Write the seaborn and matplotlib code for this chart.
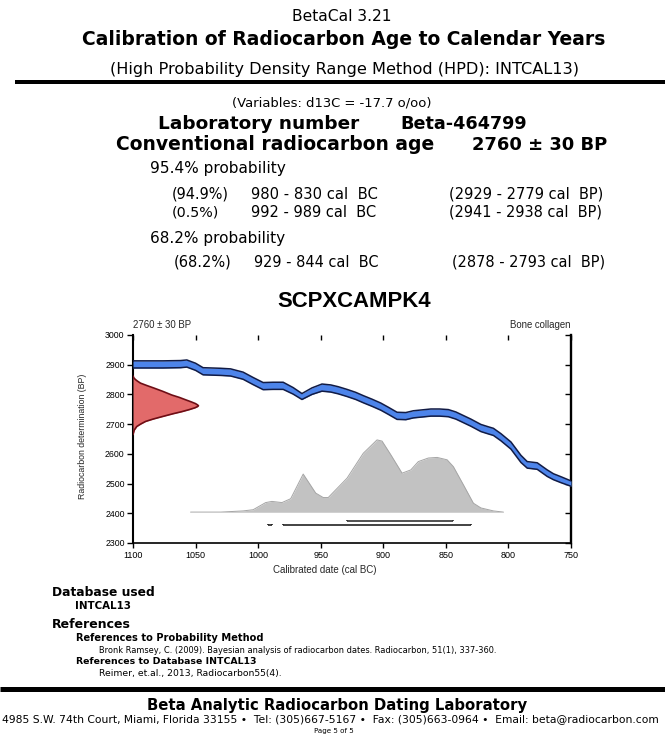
import matplotlib
matplotlib.use("Agg")
import matplotlib.pyplot as plt
import matplotlib.transforms as mtransforms
import seaborn as sns
import pandas as pd

# ---------------- data ----------------
cal_year = [1100, 1076, 1062, 1057, 1050, 1044, 1030, 1022, 1012, 1004, 996, 988, 980, 972, 965,
            957, 949, 942, 936, 929, 922, 916, 909, 902, 896, 889, 882, 876, 869, 862, 855, 848,
            842, 838, 830, 822, 816, 812, 806, 798, 790, 785, 777, 769, 764, 758, 750]
cal_bp = [2901, 2901, 2902, 2904, 2893, 2878, 2876, 2874, 2863, 2845, 2828, 2829, 2829, 2812, 2793,
          2811, 2823, 2820, 2814, 2805, 2795, 2784, 2772, 2759, 2745, 2728, 2727, 2733, 2736, 2739,
          2739, 2737, 2729, 2721, 2705, 2687, 2679, 2674, 2656, 2628, 2583, 2563, 2559, 2535, 2523,
          2513, 2500]
cal_err = [12, 12, 12, 12, 12, 12, 12, 12, 12, 12, 12, 12, 12, 11, 10,
           11, 12, 12, 12, 12, 12, 12, 12, 12, 12, 12, 12, 12, 12, 12,
           12, 12, 12, 12, 12, 12, 12, 12, 12, 12, 12, 11, 11, 11, 10,
           10, 9]

red_bp = [2862, 2855, 2850, 2845, 2838, 2830, 2821, 2810, 2798, 2790, 2782, 2775, 2769, 2765,
          2762, 2759, 2755, 2749, 2742, 2735, 2725, 2717, 2709, 2700, 2692, 2680, 2665]
red_year = [1100, 1099.2, 1098, 1096.5, 1094, 1089, 1083, 1076, 1069, 1063, 1058, 1053.5, 1050,
            1048.5, 1047.7, 1048.5, 1050.5, 1055, 1061, 1068, 1077, 1084, 1090, 1094, 1097, 1099, 1100]

gray_year = [1054, 1030, 1012, 1004, 994, 989, 981, 974, 964, 954, 948, 944, 929, 916, 905, 901,
             894, 885, 878, 872, 864, 857, 849, 844, 836, 828, 822, 812, 804]
gray_bp = [2404, 2404, 2408, 2412, 2436, 2440, 2436, 2449, 2532, 2468, 2453, 2453, 2518, 2602,
           2647, 2643, 2597, 2535, 2546, 2574, 2586, 2588, 2580, 2557, 2496, 2434, 2418, 2408, 2404]
gray_base = 2404

hpd95_from = [980, 992]
hpd95_to = [830, 989]
hpd68_from = [929]
hpd68_to = [844]

x_ticks = [1100, 1050, 1000, 950, 900, 850, 800, 750]
y_ticks = [2300, 2400, 2500, 2600, 2700, 2800, 2900, 3000]

# ---------------- figure ----------------
sns.set_style("ticks")
plt.rcParams["font.family"] = ["DejaVu Sans"]
W, H, DPI = 665, 737, 100
fig = plt.figure(figsize=(W / DPI, H / DPI), dpi=DPI)
renderer = fig.canvas.get_renderer()
ident = mtransforms.IdentityTransform()


def page_text(s, x, y, width, ha="left", weight="normal", family="DejaVu Sans", color="black"):
    t = fig.text(0, 0, s, ha=ha, va="baseline", fontweight=weight, family=family,
                 fontsize=10, transform=ident, color=color)
    w = t.get_window_extent(renderer).width
    fs = 10 * width / w
    t.set_fontsize(fs)
    em = fs * DPI / 72.0
    t.set_position((x, H - (y + 0.36 * em)))
    return t


def hrule(y, x0, x1, thick):
    fig.add_artist(plt.Line2D([x0, x1], [H - y, H - y], transform=ident,
                              color="black", linewidth=thick * 72 / DPI, solid_capstyle="butt"))


# header
page_text("BetaCal 3.21", 342, 15.5, 100, ha="center")
page_text("Calibration of Radiocarbon Age to Calendar Years", 344, 38.3, 526, ha="center", weight="bold")
page_text("(High Probability Density Range Method (HPD): INTCAL13)", 345, 68.5, 468, ha="center")
hrule(81.5, 15, 665, 4)
page_text("(Variables: d13C = -17.7 o/oo)", 332, 101.5, 199, ha="center")
page_text("Laboratory number", 157.8, 122.5, 202, weight="bold")
page_text("Beta-464799", 400.8, 122.5, 127, weight="bold")
page_text("Conventional radiocarbon age", 116, 143.3, 319, weight="bold")
page_text("2760 ± 30 BP", 471.6, 143.3, 135, weight="bold")
page_text("95.4% probability", 150, 167.5, 136)
page_text("(94.9%)", 171.7, 193.7, 57.3)
page_text("980 - 830 cal  BC", 250.7, 193.7, 126)
page_text("(2929 - 2779 cal  BP)", 448.7, 193.7, 153.5)
page_text("(0.5%)", 171.7, 211.7, 47.3)
page_text("992 - 989 cal  BC", 251, 211.7, 125)
page_text("(2941 - 2938 cal  BP)", 448.7, 211.7, 153.3)
page_text("68.2% probability", 150.5, 237.8, 135.5)
page_text("(68.2%)", 174, 261.7, 57.7)
page_text("929 - 844 cal  BC", 254.3, 261.7, 124.4)
page_text("(2878 - 2793 cal  BP)", 451.7, 261.7, 152.6)

# chart title
page_text("SCPXCAMPK4", 354.2, 299, 153.6, ha="center", weight="bold", family="Liberation Sans")

# footer
page_text("Database used", 51.7, 591.7, 103, weight="bold")
page_text("INTCAL13", 75.5, 605, 56, weight="bold")
page_text("References", 51.7, 623.3, 79, weight="bold")
page_text("References to Probability Method", 75.5, 637.3, 187.5, weight="bold")
page_text("Bronk Ramsey, C. (2009). Bayesian analysis of radiocarbon dates. Radiocarbon, 51(1), 337-360.",
          98.8, 650, 395)
page_text("References to Database INTCAL13", 75.5, 661, 182, weight="bold")
page_text("Reimer, et.al., 2013, Radiocarbon55(4).", 98.8, 672.7, 183)
hrule(688.5, 0, 665, 5)
page_text("Beta Analytic Radiocarbon Dating Laboratory", 337, 705, 382, ha="center", weight="bold")
page_text("4985 S.W. 74th Court, Miami, Florida 33155 \u2022  Tel: (305)667-5167 \u2022  "
          "Fax: (305)663-0964 \u2022  Email: beta@radiocarbon.com", 2.5, 718.3, 659)
page_text("Page 5 of 5", 334, 730, 40, ha="center")

# ---------------- chart ----------------
ax_l, ax_r, ax_t, ax_b = 133, 571, 335, 543
ax = fig.add_axes([ax_l / W, 1 - ax_b / H, (ax_r - ax_l) / W, (ax_b - ax_t) / H])
ax.set_facecolor("white")

cal = pd.DataFrame({"year": cal_year, "bp": cal_bp, "err": cal_err})
cal["lo"] = cal["bp"] - cal["err"]
cal["hi"] = cal["bp"] + cal["err"]

gray = pd.DataFrame({"year": gray_year, "bp": gray_bp})
red = pd.DataFrame({"year": red_year, "bp": red_bp})

# probability distribution (grey)
ax.fill_between(gray["year"], gray_base, gray["bp"], color="#c2c2c2", linewidth=0, zorder=1)
sns.lineplot(data=gray, x="year", y="bp", sort=False, estimator=None, color="#a5a5a5",
             linewidth=0.7, ax=ax, zorder=2)
ax.plot([gray_year[0], gray_year[-1]], [gray_base, gray_base], color="#cfcfcf", linewidth=0.6, zorder=2)

# calibration curve band (blue)
ax.fill_between(cal["year"], cal["lo"], cal["hi"], color="#4d84ea", linewidth=0, zorder=3)
sns.lineplot(data=cal, x="year", y="hi", sort=False, estimator=None, color="#111b45",
             linewidth=1.1, ax=ax, zorder=4)
sns.lineplot(data=cal, x="year", y="lo", sort=False, estimator=None, color="#111b45",
             linewidth=1.1, ax=ax, zorder=4)

# measured radiocarbon age distribution (red)
ax.fill_betweenx(red["bp"], red["year"], 1100, color="#e26a6a", linewidth=0, zorder=3)
sns.lineplot(data=red, x="year", y="bp", sort=False, estimator=None, color="#6e0d15",
             linewidth=1.2, ax=ax, zorder=4)

# HPD range bars
y95, y68, cap = 2359, 2373, 6
ax.hlines([y95] * len(hpd95_from), hpd95_from, hpd95_to, color="#222222", linewidth=1.2, zorder=5)
ax.vlines(hpd95_from + hpd95_to, y95, y95 + cap, color="#222222", linewidth=1.2, zorder=5)
ax.hlines([y68] * len(hpd68_from), hpd68_from, hpd68_to, color="#333333", linewidth=1.2, zorder=5)
ax.vlines(hpd68_from + hpd68_to, y68, y68 + cap, color="#333333", linewidth=1.2, zorder=5)

ax.set_xlim(1100, 750)
ax.set_ylim(2300, 3000)
ax.set_xticks(x_ticks)
ax.set_yticks(y_ticks)
ax.set_xticklabels([str(v) for v in x_ticks], family="Liberation Sans", fontsize=6.5)
ax.set_yticklabels([str(v) for v in y_ticks], family="Liberation Sans", fontsize=6.3)
ax.tick_params(axis="x", direction="out", length=3.5, width=1.0, pad=2.5, colors="black")
ax.tick_params(axis="y", direction="out", length=4.5, width=1.0, pad=1.5, colors="black")
sns.despine(ax=ax, top=True, right=True)
ax.spines["left"].set_linewidth(1.5)
ax.spines["bottom"].set_linewidth(1.2)
ax.spines["left"].set_color("black")
ax.spines["bottom"].set_color("black")
ax.grid(False)

secx = ax.secondary_xaxis("top")
secx.set_xticks(x_ticks)
secx.tick_params(axis="x", direction="in", length=3.5, width=1.0, labeltop=False, colors="black")
secx.spines["top"].set_visible(False)

secy = ax.secondary_yaxis("right")
secy.set_yticks(y_ticks)
secy.tick_params(axis="y", direction="in", length=4, width=1.0, labelright=False, colors="black")
secy.spines["right"].set_linewidth(1.7)
secy.spines["right"].set_color("black")

ax.set_xlabel("Calibrated date (cal BC)", family="Liberation Sans", fontsize=7)
ax.set_ylabel("Radiocarbon determination (BP)", family="Liberation Sans", fontsize=6.3)
ax.xaxis.set_label_coords(0.4375, -0.108)
ax.yaxis.set_label_coords(-0.105, 0.512)

ax.text(0, 1.048, "2760 \u00b1 30 BP", transform=ax.transAxes, ha="left", va="center",
        family="Liberation Sans", fontsize=6.9)
ax.text(1, 1.048, "Bone collagen", transform=ax.transAxes, ha="right", va="center",
        family="Liberation Sans", fontsize=6.9)

fig.savefig("out.png", dpi=DPI)
